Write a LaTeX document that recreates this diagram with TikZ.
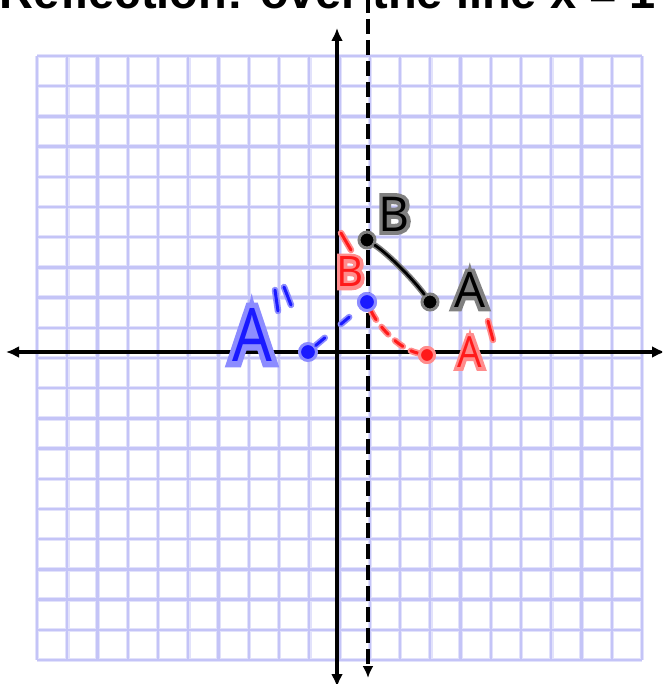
\documentclass[tikz,border=0pt]{standalone}
\usepackage{fontspec}
\setmainfont{Liberation Sans}
\newfontfamily\hand{Open Sans}
\newfontfamily\handhalo[FakeBold=16]{Open Sans}
\usetikzlibrary{arrows.meta,calc}
\definecolor{gridc}{HTML}{C4C4F7}
\definecolor{gridl}{HTML}{E2E2FB}
\definecolor{hred}{HTML}{FF1A1A}
\definecolor{hredl}{HTML}{FF8C8C}
\definecolor{hblue}{HTML}{1A1AFF}
\definecolor{hbluel}{HTML}{8C8CFF}
\definecolor{hgray}{HTML}{808080}
\tikzset{
  axisline/.style={line width=4.8pt, draw=black},
  tipx/.style={arrows={Latex[length=13pt,width=12pt]-Latex[length=13pt,width=12pt]}},
  blk/.style={draw=black, line width=2.8pt, line cap=round, preaction={draw=hgray, line width=6pt, line cap=round}},
  rst/.style={draw=hred, line width=3pt, line cap=round, preaction={draw=hredl, line width=6.5pt, line cap=round}},
  bst/.style={draw=hblue, line width=3pt, line cap=round, preaction={draw=hbluel, line width=6.5pt, line cap=round}},
  rdash/.style={draw=hred, line width=3pt, line cap=round, dash pattern=on 10pt off 9pt,
     preaction={draw=hredl, line width=6.5pt, line cap=round, dash pattern=on 10pt off 9pt}},
  bdash/.style={draw=hblue, line width=3pt, line cap=round, dash pattern=on 12pt off 21pt on 11pt off 60pt,
     preaction={draw=hbluel, line width=6.5pt, line cap=round, dash pattern=on 12pt off 21pt on 11pt off 60pt}},
  bdot/.style={circle, inner sep=0pt, minimum size=16pt, fill=black, draw=hgray, line width=3pt},
  rdot/.style={circle, inner sep=0pt, minimum size=15pt, fill=hred, draw=hredl, line width=3pt},
  udot/.style={circle, inner sep=0pt, minimum size=17pt, fill=hblue, draw=hbluel, line width=3pt},
  hw/.style={inner sep=0pt, font=\hand\fontsize{#1}{#1}\selectfont},
  hwh/.style={inner sep=0pt, font=\handhalo\fontsize{#1}{#1}\selectfont},
}
\begin{document}
\begin{tikzpicture}[x=1pt,y=-1pt]
\useasboundingbox (0,0) rectangle (662,684);
\clip (0,0) rectangle (662,684);
\fill[white] (0,0) rectangle (662,684);
% grid
\foreach \k in {0,...,20}{
  \draw[gridl, line width=4.5pt] ({37+30.25*\k},56) -- ({37+30.25*\k},660);
  \draw[gridl, line width=4.5pt] (37,{56+30.2*\k}) -- (642,{56+30.2*\k});
}
\foreach \k in {0,...,20}{
  \draw[gridc, line width=2.4pt] ({37+30.25*\k},56) -- ({37+30.25*\k},660);
  \draw[gridc, line width=2.4pt] (37,{56+30.2*\k}) -- (642,{56+30.2*\k});
}
% title
\node[font=\fontsize{47}{50}\selectfont\bfseries, anchor=base, inner sep=0pt] (title) at (328,9) {Reflection: over the line x = 1};
% axes
\coordinate (ytop) at (337,28);
\coordinate (ybot) at (337,687);
\coordinate (xl) at (6,352);
\coordinate (xr) at (665,352);
\draw[axisline, tipx] (ybot) -- (ytop);
\draw[axisline, tipx] (xl) -- (xr);
% line x = 1
\coordinate (dtop) at (368,-2);
\coordinate (dbot) at (368,678);
\draw[line width=4.4pt, dash pattern=on 15pt off 6pt, -{Latex[length=12pt,width=11pt]}] (dtop) -- (dbot);
% points
\node[bdot] (B) at (367,240) {};
\node[bdot] (A) at (430,302) {};
\node[rdot] (Ap) at (427,355) {};
\node[udot] (Bpp) at (367,302) {};
\node[udot] (App) at (308,352) {};
% connectors
\draw[blk] (B) .. controls (388,254) and (412,278) .. (A);
\draw[rdash] (Bpp) .. controls (377,324) and (398,349) .. (Ap);
\draw[bdash] (App) -- (Bpp);
\node[udot] at (Bpp) {};
\node[rdot] at (Ap) {};
% labels (halo copy underneath, then the letter)
\node[hwh=48, text=hgray] at (394,214) {B};
\node[hw=48, text=black] (lB) at (394,214) {B};
\node[hwh=49, text=hgray] at (470,290) {A};
\node[hw=49, text=black] (lA) at (470,290) {A};
\node[hwh=42, text=hredl] at (350,272) {B};
\node[hw=42, text=hred] (lBp) at (350,272) {B};
\node[hwh=43, text=hredl] at (470,352) {\scalebox{0.9}[1]{A}};
\node[hw=43, text=hred] (lAp) at (470,352) {\scalebox{0.9}[1]{A}};
\node[hwh=74, text=hbluel] at (252,335) {\scalebox{0.85}[1]{A}};
\node[hw=74, text=hblue] (lApp) at (252,335) {\scalebox{0.85}[1]{A}};
% primes
\draw[rst] (341,233) -- (351,250);
\draw[rst] (488,321) -- (493,340);
\draw[bst] (275,290) -- (278,311);
\draw[bst] (284,287) -- (291,305);
\end{tikzpicture}
\end{document}
